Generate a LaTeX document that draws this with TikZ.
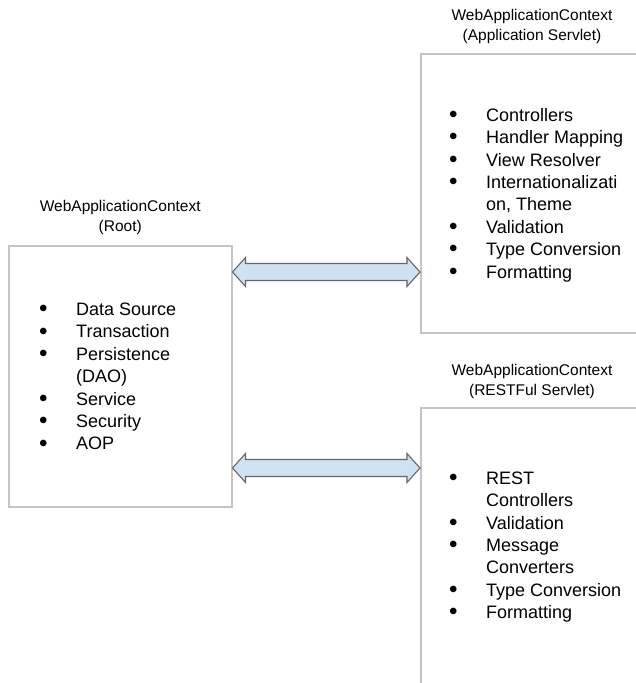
\documentclass[tikz,border=0pt]{standalone}
\usepackage{fontspec}
\setmainfont{Liberation Sans}
\usetikzlibrary{positioning,calc}

\definecolor{boxgray}{HTML}{C4C4C4}
\definecolor{arrowfill}{HTML}{CFE2F3}
\definecolor{arrowline}{HTML}{666666}

\newcommand{\itm}[1]{\makebox[37pt][l]{\raisebox{-0.07em}{\scalebox{1.35}{\textbullet}}}#1}
\newcommand{\cnt}[1]{\hspace*{37pt}#1}
% double headed block arrow between two points
\newcommand{\bigarrow}[2]{\path[bigarrow] (#1) -- ++(13,-14.5) -- ++(0,6) -- ($(#2)+(-13,-8.5)$) -- ++(0,-6) -- (#2) -- ++(-13,14.5) -- ++(0,-6) -- ($(#1)+(13,8.5)$) -- ++(0,6) -- cycle;}

\begin{document}
\begin{tikzpicture}[x=1pt,y=-1pt,
		ctxbox/.style={draw=boxgray,line width=1.5pt,rectangle,anchor=north west,inner sep=0pt},
		ctxtitle/.style={align=center,font=\fontsize{15.5}{20}\selectfont,inner sep=0pt},
		ctxlist/.style={align=left,anchor=west,font=\fontsize{18}{22.4}\selectfont,inner sep=0pt},
		bigarrow/.style={draw=arrowline,fill=arrowfill,line width=1.1pt,line join=miter}]

	\useasboundingbox (0,0) rectangle (636,683);
	\clip (0,0) rectangle (636,683);

	% the three contexts
	\node[ctxbox,minimum width=223pt,minimum height=261pt] (root) at (8,245) {};
	\node[ctxbox,minimum width=260pt,minimum height=279pt] (app) at (420,53) {};
	\node[ctxbox,minimum width=260pt,minimum height=320pt] (rest) at (420,407) {};

	% titles
	\coordinate (apptop) at ([xshift=112pt]app.north west);
	\coordinate (resttop) at ([xshift=112pt]rest.north west);
	\node[ctxtitle,above=10pt of root] (roottitle) {WebApplicationContext\\(Root)};
	\node[ctxtitle,above=9pt of apptop] (apptitle) {WebApplicationContext\\(Application Servlet)};
	\node[ctxtitle,above=8pt of resttop] (resttitle) {WebApplicationContext\\(RESTFul Servlet)};

	% contents
	\node[ctxlist] (rootlist) at (39,377) {\itm{Data Source}\\\itm{Transaction}\\\itm{Persistence}\\\cnt{(DAO)}\\\itm{Service}\\\itm{Security}\\\itm{AOP}};
	\node[ctxlist] (applist) at (449,195) {\itm{Controllers}\\\itm{Handler Mapping}\\\itm{View Resolver}\\\itm{Internationalizati}\\\cnt{on, Theme}\\\itm{Validation}\\\itm{Type Conversion}\\\itm{Formatting}};
	\node[ctxlist] (restlist) at (449,547) {\itm{REST}\\\cnt{Controllers}\\\itm{Validation}\\\itm{Message}\\\cnt{Converters}\\\itm{Type Conversion}\\\itm{Formatting}};

	% connections
	\coordinate (topl) at (root.east |- 0,272);
	\coordinate (topr) at (app.west |- 0,272);
	\coordinate (botl) at (root.east |- 0,468);
	\coordinate (botr) at (rest.west |- 0,468);
	\bigarrow{topl}{topr}
	\bigarrow{botl}{botr}
\end{tikzpicture}
\end{document}
